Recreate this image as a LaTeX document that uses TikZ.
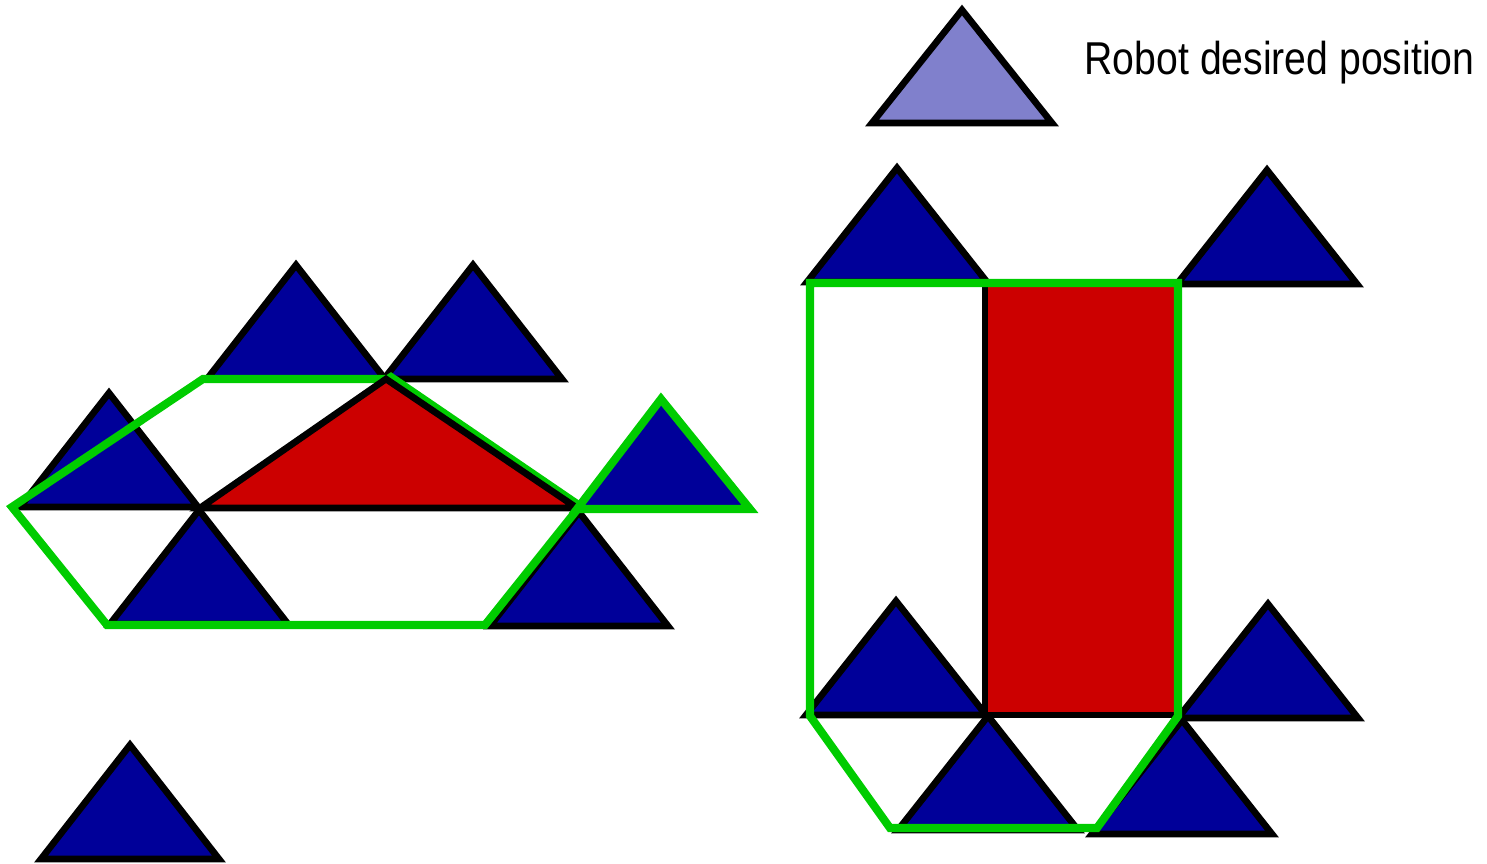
\documentclass[tikz,border=0pt]{standalone}
\usepackage{fontspec}
\newfontfamily\labelfont[FakeStretch=0.85]{Liberation Sans}
\definecolor{robotblue}{RGB}{0,0,153}
\definecolor{goalblue}{RGB}{128,128,204}
\definecolor{objred}{RGB}{204,0,0}
\definecolor{hullgreen}{RGB}{0,204,0}
\tikzset{
  robot/.style={fill=robotblue,draw=black,line width=1.9pt},
  goal/.style={fill=goalblue,draw=black,line width=1.9pt},
  object/.style={fill=objred,draw=black,line width=1.9pt},
  hull/.style={draw=hullgreen,line width=2.3pt}
}
\begin{document}
\begin{tikzpicture}[x=0.01cm,y=-0.01cm,line join=miter]
    \useasboundingbox (0,0) rectangle (1487,863);
    % left group: robots around the triangular object
    \foreach \x/\y in {296/265,473/265,109/393,199/510,579/512,130/745}{
      \draw[robot] (\x-89,\y+114)--(\x,\y)--(\x+89,\y+114)--cycle;
    }
    \draw[hull] (12,507)--(203,379)--(388,379)--(391,377)--(580,506)--(485,625)--(107,625)--cycle;
    \draw[object] (200,508)--(386,379)--(577,508)--cycle;
    \draw[robot,draw=hullgreen,line width=2.3pt] (577,509)--(661,399)--(750,509)--cycle;
    % right group: robots around the rectangular object
    \foreach \x/\y in {897/168,1267/170,896/601,988/716,1268/604,1182/720}{
      \draw[robot] (\x-90,\y+114)--(\x,\y)--(\x+90,\y+114)--cycle;
    }
    \draw[object] (985,283) rectangle (1178,715);
    \draw[hull] (810,283)--(1178,283)--(1178,716)--(1097,828)--(890,828)--(810,716)--cycle;
    % legend
    \draw[goal] (872,123)--(962,10)--(1052,123)--cycle;
    \node[anchor=base west,inner sep=0pt,font=\labelfont\fontsize{13.1}{15}\selectfont] (legend) at (1084,74) {Robot desired position};
  \end{tikzpicture}
\end{document}
